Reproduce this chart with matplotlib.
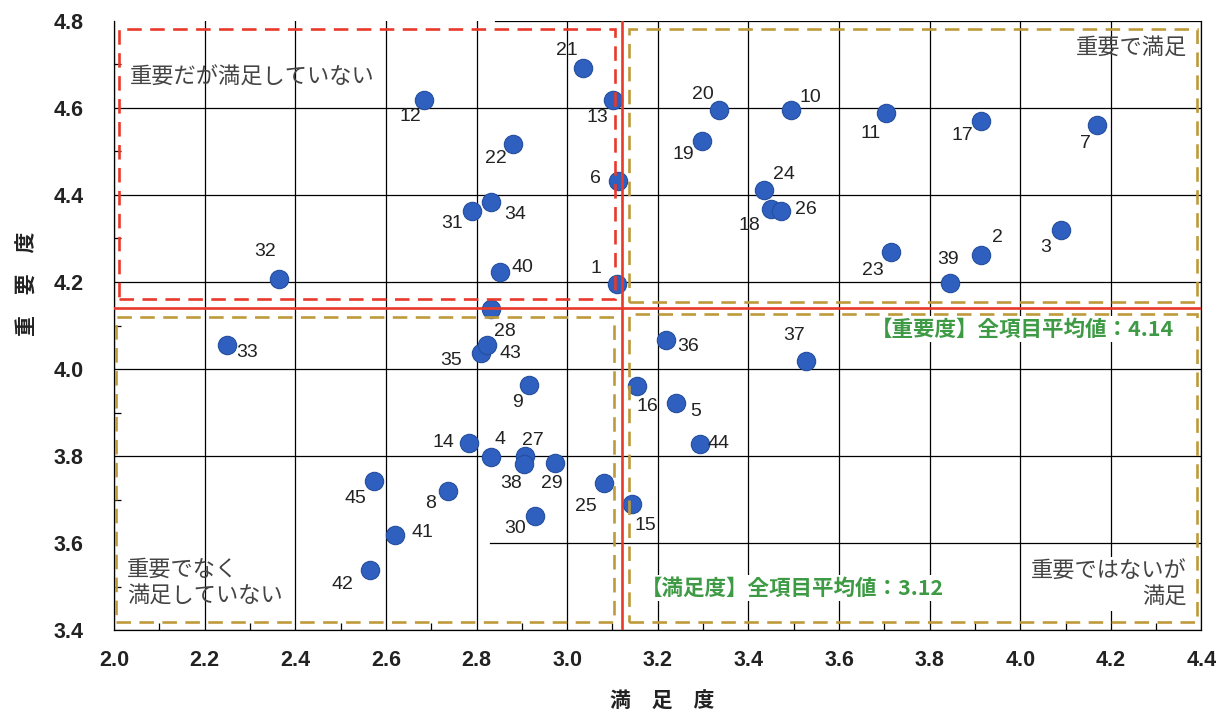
import matplotlib
matplotlib.use("Agg")
import matplotlib.pyplot as plt
from matplotlib.patches import Rectangle
from matplotlib.ticker import MultipleLocator

plt.rcParams['font.family'] = ['Noto Sans CJK JP', 'DejaVu Sans']

# ---- data ----
item_ids = [1, 2, 3, 4, 5, 6, 7, 8, 9, 10, 11, 12, 13, 14, 15, 16, 17, 18, 19, 20,
            21, 22, 23, 24, 25, 26, 27, 28, 29, 30, 31, 32, 33, 34, 35, 36, 37, 38, 39, 40,
            41, 42, 43, 44, 45]
satisfaction = [3.111, 3.913, 4.089, 2.833, 3.241, 3.113, 4.170, 2.736, 2.915, 3.494,
                3.704, 2.684, 3.102, 2.784, 3.144, 3.154, 3.914, 3.449, 3.297, 3.336,
                3.034, 2.880, 3.714, 3.434, 3.081, 3.472, 2.908, 2.832, 2.973, 2.928,
                2.789, 2.365, 2.250, 2.832, 2.809, 3.219, 3.528, 2.905, 3.845, 2.851,
                2.621, 2.564, 2.824, 3.293, 2.573]
importance = [4.195, 4.261, 4.319, 3.797, 3.923, 4.431, 4.561, 3.719, 3.964, 4.594,
              4.589, 4.617, 4.618, 3.829, 3.691, 3.962, 4.569, 4.368, 4.524, 4.594,
              4.691, 4.518, 4.268, 4.412, 3.739, 4.363, 3.800, 4.138, 3.785, 3.662,
              4.364, 4.208, 4.056, 4.383, 4.037, 4.066, 4.019, 3.783, 4.197, 4.222,
              3.618, 3.538, 4.056, 3.828, 3.742]
mean_satisfaction = 3.12
mean_importance = 4.14
x_ticks = [2.0, 2.2, 2.4, 2.6, 2.8, 3.0, 3.2, 3.4, 3.6, 3.8, 4.0, 4.2, 4.4]
y_ticks = [3.4, 3.6, 3.8, 4.0, 4.2, 4.4, 4.6, 4.8]
x_label = "満　足　度"
y_label = "重　要　度"
quadrant_texts = ["重要だが満足していない", "重要で満足", "重要でなく\n満足していない", "重要ではないが\n満足"]
mean_texts = ["【重要度】全項目平均値：4.14", "【満足度】全項目平均値：3.12"]

# label offsets (pixels: dx, dy-up) -- styling only
label_offsets = {
    1: (-21, 16), 2: (17, 18), 3: (-15, -17), 4: (9, 18), 5: (19, -9), 6: (-23, 3),
    7: (-12, -19), 8: (-17, -12), 9: (-11, -18), 10: (19, 13), 11: (-15, -21),
    12: (-14, -16), 13: (-16, -17), 14: (-26, 1), 15: (13, -22), 16: (10, -21),
    17: (-19, -14), 18: (-21, -17), 19: (-18, -14), 20: (-16, 16), 21: (-16, 18),
    22: (-17, -15), 23: (-18, -18), 24: (20, 15), 25: (-18, -24), 26: (25, 2),
    27: (7, 16), 28: (14, -23), 29: (-3, -21), 30: (-19, -12), 31: (-19, -13),
    32: (-14, 27), 33: (20, -8), 34: (24, -12), 35: (-29, -8), 36: (22, -6),
    37: (-12, 25), 38: (-13, -20), 39: (-2, 24), 40: (23, 5), 41: (27, 3),
    42: (-27, -14), 43: (23, -9), 44: (19, 0), 45: (-18, -17),
}

fig = plt.figure(figsize=(12.26, 7.17), dpi=100)
ax = fig.add_axes([0.093, 0.121, 0.887, 0.850])
ax.set_xlim(2.0, 4.4)
ax.set_ylim(3.4, 4.8)

# grid
for xv in x_ticks:
    ax.axvline(xv, color='black', lw=0.9, zorder=1)
for yv in y_ticks:
    if yv == 3.6:
        ax.plot([2.83, 4.4], [yv, yv], color='black', lw=0.9, zorder=1)
    elif yv == 4.8:
        ax.plot([2.84, 4.4], [yv, yv], color='black', lw=0.9, zorder=1)
    else:
        ax.axhline(yv, color='black', lw=0.9, zorder=1)

ax.spines['top'].set_visible(False)
for s in ['left', 'bottom', 'right']:
    ax.spines[s].set_color('black')
    ax.spines[s].set_linewidth(0.9)

ax.set_xticks(x_ticks)
ax.set_yticks(y_ticks)
ax.set_xticklabels([f"{v:.1f}" for v in x_ticks])
ax.set_yticklabels([f"{v:.1f}" for v in y_ticks])
ax.xaxis.set_minor_locator(MultipleLocator(0.1))
ax.yaxis.set_minor_locator(MultipleLocator(0.1))
ax.tick_params(axis='both', which='major', direction='in', length=0,
               labelsize=15.5, labelcolor='#222222')
ax.tick_params(axis='x', which='major', pad=14)
ax.tick_params(axis='y', which='major', pad=22)
ax.tick_params(axis='both', which='minor', direction='in', length=5, width=0.9, color='black')
for lab in ax.get_xticklabels() + ax.get_yticklabels():
    lab.set_fontweight('bold')
    lab.set_family(['Liberation Sans', 'DejaVu Sans'])

# axis titles
fig.text(0.540, 0.022, x_label, ha='center', va='center', fontsize=15,
         fontweight='bold', color='#222222')
fig.text(0.022, 0.604, y_label, ha='center', va='center', rotation=90, fontsize=15,
         fontweight='bold', color='#222222')

# points
ax.scatter(satisfaction, importance, s=175, color='#2f5fbf', edgecolor='#244f9e',
           linewidth=0.8, zorder=3)
for iid, xv, yv in zip(item_ids, satisfaction, importance):
    dx, dy = label_offsets[iid]
    ax.annotate(str(iid), (xv, yv), xytext=(dx, dy), textcoords='offset pixels',
                ha='center', va='center', fontsize=14, color='#222222',
                family=['Liberation Sans Narrow', 'Liberation Sans', 'DejaVu Sans'], zorder=4)

# quadrant dashed boxes
red = '#e8392b'
gold = '#bf9a3c'
dash = (0, (5.5, 3.2))
ax.add_patch(Rectangle((2.012, 4.161), 3.106 - 2.012, 4.782 - 4.161, fill=False,
                       edgecolor=red, lw=1.9, linestyle=dash, zorder=5))
ax.add_patch(Rectangle((3.137, 4.154), 4.39 - 3.137, 4.782 - 4.154, fill=False,
                       edgecolor=gold, lw=1.9, linestyle=dash, zorder=5))
ax.add_patch(Rectangle((3.137, 3.42), 4.39 - 3.137, 4.126 - 3.42, fill=False,
                       edgecolor=gold, lw=1.9, linestyle=dash, zorder=5))
ax.add_patch(Rectangle((2.004, 3.418), 3.104 - 2.004, 4.12 - 3.418, fill=False,
                       edgecolor=gold, lw=1.9, linestyle=dash, zorder=5))

# mean lines
ax.axvline(mean_satisfaction, color=red, lw=1.9, zorder=6)
ax.axhline(mean_importance, color=red, lw=1.9, zorder=6)

# quadrant labels
qcol = '#444444'
ax.text(2.036, 4.671, quadrant_texts[0], ha='left', va='center', fontsize=16, color=qcol, zorder=4)
ax.text(4.368, 4.74, quadrant_texts[1], ha='right', va='center', fontsize=16, color=qcol, zorder=4)
ax.text(2.029, 3.51, quadrant_texts[2], ha='left', va='center', fontsize=16, color=qcol,
        linespacing=1.15, zorder=4)
ax.text(4.368, 3.507, quadrant_texts[3], ha='right', va='center', fontsize=16, color=qcol,
        linespacing=1.15, zorder=4,
        bbox=dict(facecolor='white', edgecolor='none', pad=2))

# mean value texts
green = '#3f9a45'
ax.text(4.34, 4.092, mean_texts[0], ha='right', va='center', fontsize=15.5, fontweight='bold',
        color=green, zorder=4, bbox=dict(facecolor='white', edgecolor='none', pad=2))
ax.text(3.162, 3.497, mean_texts[1], ha='left', va='center', fontsize=15.5, fontweight='bold',
        color=green, zorder=4, bbox=dict(facecolor='white', edgecolor='none', pad=2))

fig.savefig('out.png', dpi=100, facecolor='white')
